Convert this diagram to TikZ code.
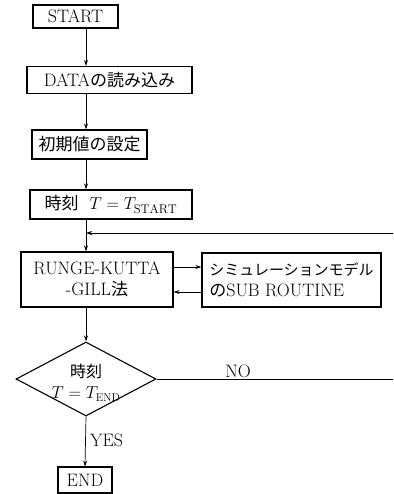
\documentclass[tikz,border=0pt]{standalone}
\usepackage{fontspec}
\newfontfamily\jp{Noto Sans CJK JP}
\usetikzlibrary{arrows.meta,shapes.geometric}
\begin{document}
\begin{tikzpicture}[x=1pt,y=-1pt,
  box/.style={draw, line width=1.1pt, inner sep=0pt, font=\fontsize{18}{21}\selectfont},
  conn/.style={line width=0.7pt},
  arr/.style={conn, -{Stealth[length=6pt,width=4pt]}},
  lbl/.style={font=\fontsize{18}{20}\selectfont, inner sep=0pt}]
\useasboundingbox (0,0) rectangle (393,494);
\coordinate (spine) at (86,0);
\coordinate (ya) at (0,267);
\coordinate (yb) at (0,292);
\coordinate (jn) at (86,233);
\coordinate (loopR) at (393,233);
\coordinate (noR) at (393,379);

\node[box, minimum width=85pt, minimum height=23pt] (start) at (75.5,16.5) {START};
\node[box, minimum width=165pt, minimum height=27pt] (data) at (109.5,80) {DATA{\fontsize{17}{21}\selectfont\jp の読み込み}};
\node[box, minimum width=115pt, minimum height=29pt] (init) at (89.5,144.5) {{\fontsize{17}{21}\selectfont\jp 初期値の設定}};
\node[box, minimum width=162pt, minimum height=29pt] (tstart) at (111,204.5) {{\fontsize{17}{21}\selectfont\jp 時刻}\ \ $T=T_{\mathrm{START}}$};
\node[box, minimum width=152pt, minimum height=55pt, align=center] (rk) at (97,279.5) {RUNGE-KUTTA\\-GILL{\fontsize{17}{21}\selectfont\jp 法}};
\node[box, minimum width=179pt, minimum height=54pt, align=left] (sub) at (291.5,280) {{\fontsize{15}{21}\selectfont\jp シミュレーションモデル}\\{\fontsize{17}{21}\selectfont\jp の}SUB ROUTINE};
\node[draw, line width=1.1pt, diamond, aspect=1.9, minimum width=140pt, minimum height=74pt, inner sep=0pt] (dec) at (86,379) {};
\node[lbl, align=center, font=\fontsize{16}{21}\selectfont] (dectext) at ([yshift=-4pt]dec.center) {{\jp 時刻}\\$T=T_{\mathrm{END}}$};
\node[box, minimum width=54pt, minimum height=26pt] (endbox) at (85,480) {END};

\draw[arr] (start.south -| spine) -- (data.north -| spine);
\draw[arr] (data.south -| spine) -- (init.north -| spine);
\draw[arr] (init.south -| spine) -- (tstart.north -| spine);
\draw[conn] (tstart.south -| spine) -- (jn);
\draw[arr] (loopR) -- (jn);
\draw[arr] (jn) -- (rk.north -| spine);
\draw[arr] (rk.east |- ya) -- (sub.west |- ya);
\draw[arr] (sub.west |- yb) -- (rk.east |- yb);
\draw[arr] (rk.south -| spine) -- (dec.north);
\draw[conn] (dec.east) -- (noR);
\node[lbl, anchor=base] (nolbl) at (238,377) {NO};
\draw[arr] (dec.south) -- (endbox.north);
\node[lbl, anchor=west] (yes) at (90,440) {YES};
\end{tikzpicture}
\end{document}
